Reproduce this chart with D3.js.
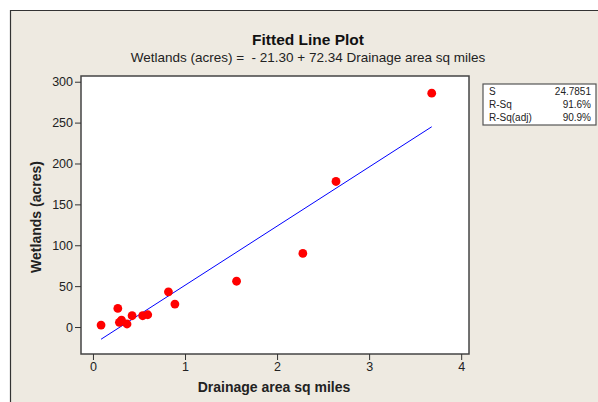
<!DOCTYPE html>
<html><head><meta charset="utf-8">
<script src="https://cdn.jsdelivr.net/npm/d3@7"></script>
<style>
html,body{margin:0;padding:0;background:#fff;}
svg{display:block;font-family:"Liberation Sans",Arial,sans-serif;}
</style></head>
<body>
<svg id="chart" width="598" height="402"></svg>
<script>
// ---- data ----
const drainage = [0.088, 0.27, 0.287, 0.31, 0.37, 0.425, 0.54, 0.595, 0.82, 0.89, 1.56, 2.28, 2.64, 3.68];
const wetlands = [2.4, 22.8, 5.7, 8.5, 3.7, 13.8, 13.8, 15, 43, 28, 56, 90, 178, 286];
const intercept = -21.30;
const slope = 72.34;
const xTicks = [0, 1, 2, 3, 4];
const yTicks = [0, 50, 100, 150, 200, 250, 300];
const statLabels = ["S", "R-Sq", "R-Sq(adj)"];
const statValues = ["24.7851", "91.6%", "90.9%"];
const titleText = "Fitted Line Plot";
const subtitleText = "Wetlands (acres) =  - 21.30 + 72.34 Drainage area sq miles";
const xLabel = "Drainage area sq miles";
const yLabel = "Wetlands (acres)";

const svg = d3.select("#chart");
const bg = "#EEEAE1";

// outer panel
svg.append("rect").attr("x",10).attr("y",10).attr("width",600).attr("height",400).attr("fill",bg);
svg.append("line").attr("x1",10).attr("x2",598).attr("y1",10.5).attr("y2",10.5).attr("stroke","#333").attr("stroke-width",1.2);
svg.append("line").attr("x1",10.5).attr("x2",10.5).attr("y1",10).attr("y2",402).attr("stroke","#333").attr("stroke-width",1.2);

const L = 81, R = 469, T = 76, B = 354;
const x = d3.scaleLinear().domain([-0.13, 4.085]).range([L, R]);
const y = d3.scaleLinear().domain([-33, 307]).range([B, T]);

// plot area
svg.append("rect").attr("x",L).attr("y",T).attr("width",R-L).attr("height",B-T)
  .attr("fill","#fff").attr("stroke","#444").attr("stroke-width",1.5);

// axes
const yAxis = svg.append("g").attr("transform",`translate(${L},0)`)
  .call(d3.axisLeft(y).tickValues(yTicks).tickFormat(d3.format("d")).tickSize(6).tickSizeOuter(0).tickPadding(2));
const xAxis = svg.append("g").attr("transform",`translate(0,${B})`)
  .call(d3.axisBottom(x).tickValues(xTicks).tickFormat(d3.format("d")).tickSize(6).tickSizeOuter(0).tickPadding(2));
[yAxis, xAxis].forEach(g => {
  g.select(".domain").remove();
  g.selectAll(".tick line").attr("stroke","#333");
  g.selectAll(".tick text").attr("fill","#222").style("font-size","12.5px").style("font-family","Liberation Sans, Arial, sans-serif");
});

// fitted line
const xmin = d3.min(drainage), xmax = d3.max(drainage);
svg.append("line")
  .attr("x1", x(xmin)).attr("y1", y(intercept + slope*xmin))
  .attr("x2", x(xmax)).attr("y2", y(intercept + slope*xmax))
  .attr("stroke","#0000FF").attr("stroke-width",1);

// points
svg.append("g").selectAll("circle").data(drainage).join("circle")
  .attr("cx", d => x(d)).attr("cy", (d,i) => y(wetlands[i])).attr("r",4.4).attr("fill","#FF0000");

// titles
svg.append("text").attr("x",308).attr("y",45).attr("text-anchor","middle")
  .style("font-size","15.5px").style("font-weight","bold").attr("fill","#111").text(titleText);
svg.append("text").attr("x",308).attr("y",62).attr("text-anchor","middle")
  .style("font-size","13.5px").style("white-space","pre").attr("fill","#222").text(subtitleText);

// axis labels
svg.append("text").attr("x",274).attr("y",392).attr("text-anchor","middle")
  .style("font-size","14px").style("font-weight","bold").attr("fill","#222").text(xLabel);
svg.append("text").attr("transform","translate(41,217) rotate(-90)").attr("text-anchor","middle")
  .style("font-size","14px").style("font-weight","bold").attr("fill","#222").text(yLabel);

// stats box
svg.append("rect").attr("x",483).attr("y",84).attr("width",113).attr("height",41)
  .attr("fill","#fff").attr("stroke","#555").attr("stroke-width",1.2);
statLabels.forEach((s,i) => {
  svg.append("text").attr("x",489).attr("y",95 + i*13).style("font-size","10px").attr("fill","#222").text(s);
  svg.append("text").attr("x",591).attr("y",95 + i*13).attr("text-anchor","end").style("font-size","10px").attr("fill","#222").text(statValues[i]);
});
</script>
</body></html>
